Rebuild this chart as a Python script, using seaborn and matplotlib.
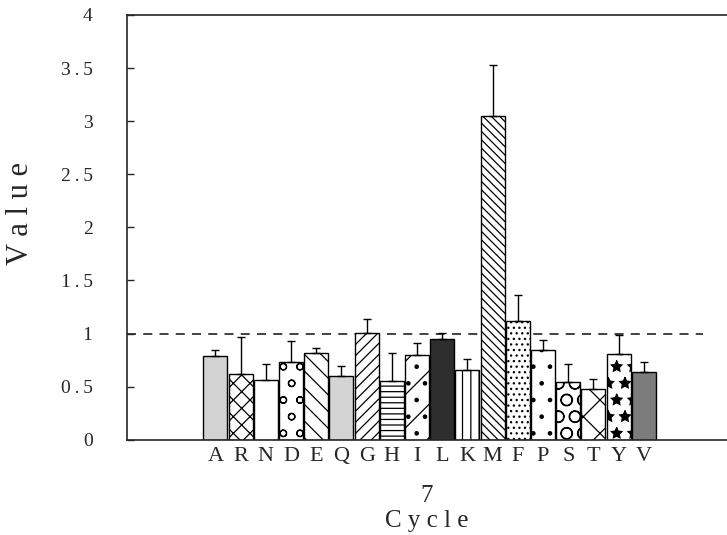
import matplotlib
matplotlib.use('Agg')
import matplotlib.pyplot as plt
import numpy as np
import pandas as pd
import seaborn as sns

# amino-acid residues (cycle 7) and read-off bar heights / upper error limits
residues = ['A', 'R', 'N', 'D', 'E', 'Q', 'G', 'H', 'I',
            'L', 'K', 'M', 'F', 'P', 'S', 'T', 'Y', 'V']
values = [0.79, 0.62, 0.56, 0.73, 0.82, 0.60, 1.01, 0.55, 0.80,
          0.95, 0.66, 3.05, 1.12, 0.85, 0.54, 0.48, 0.81, 0.64]
upper = [0.85, 0.97, 0.71, 0.93, 0.86, 0.69, 1.14, 0.82, 0.91,
         1.01, 0.76, 3.53, 1.36, 0.94, 0.71, 0.57, 0.99, 0.73]
reference_level = 1.0
yticks = [0, 0.5, 1, 1.5, 2, 2.5, 3, 3.5, 4]
ytick_labels = ['0', '0\u2009.\u20095', '1', '1\u2009.\u20095', '2',
                '2\u2009.\u20095', '3', '3\u2009.\u20095', '4']

# fill colour and hatch for each bar (old b/w print look)
faces = ['#d2d2d2', 'white', 'white', 'white', 'white', '#d4d4d4', 'white',
         'white', 'white', '#2e2e2e', 'white', 'white', 'white', 'white',
         'white', 'white', 'white', '#7c7c7c']
hatches = ['', 'xx', '', 'o', '\\\\', '', '///', '---', '/.', '',
           '||', '\\\\\\\\', '...', '.', 'O', 'x', '*', '']

sns.set_style('ticks')
plt.rcParams['font.family'] = ['Liberation Serif', 'DejaVu Serif']
plt.rcParams['hatch.linewidth'] = 0.9

df = pd.DataFrame({'residue': residues, 'value': values})

fig = plt.figure(figsize=(7.27, 5.35), dpi=100)
ax = fig.add_axes([0.175, 0.178, 0.825, 0.794])

sns.barplot(data=df, x='residue', y='value', color='white',
            edgecolor='black', linewidth=1.0, width=0.95, ax=ax)

for patch, face, hatch in zip(ax.patches, faces, hatches):
    patch.set_facecolor(face)
    patch.set_hatch(hatch)

pos = np.arange(len(residues))
err = np.array(upper) - np.array(values)
ax.errorbar(pos, values, yerr=[np.zeros_like(err), err], fmt='none',
            ecolor='black', elinewidth=1.0, capsize=3, capthick=1.0,
            zorder=5)

ax.axhline(reference_level, color='#333333', linestyle=(0, (5, 4)),
           linewidth=1.3, xmin=0, xmax=0.96, zorder=0.5)

ax.set_xlim(-3.5, 20.3)
ax.set_ylim(0, 4)
ax.set_yticks(yticks)
ax.set_yticklabels(ytick_labels)
ax.tick_params(axis='y', direction='in', length=5, width=1, pad=25,
               labelsize=14)
ax.tick_params(axis='x', length=0, pad=5, labelsize=16)

ax.set_xlabel('7\nC y c l e', fontsize=18, linespacing=1.15, labelpad=14)
ax.set_ylabel('V a l u e', fontsize=22)
ax.yaxis.set_label_coords(-0.153, 0.532)

for side in ['left', 'bottom', 'top']:
    ax.spines[side].set_linewidth(1.2)
ax.spines['right'].set_visible(False)

fig.savefig('out.png', dpi=100)
